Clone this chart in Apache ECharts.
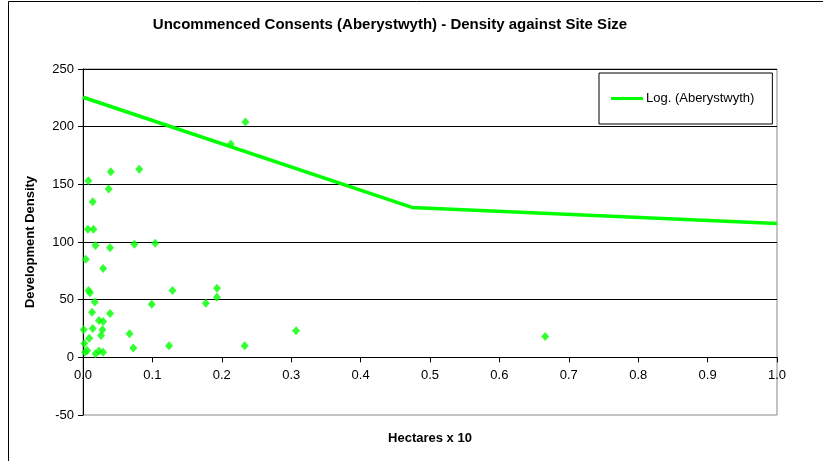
<!DOCTYPE html>
<html>
<head>
<meta charset="utf-8">
<script src="https://cdn.jsdelivr.net/npm/echarts@6/dist/echarts.min.js"></script>
<style>
  html, body { margin: 0; padding: 0; background: #fff; }
  #chart { width: 823px; height: 461px; }
</style>
</head>
<body>
<div id="chart"></div>
<script>
// Site size (hectares x 10) and development density for each uncommenced consent
const siteSize = [
  0.0077, 0.040, 0.081, 0.037, 0.014, 0.007, 0.015, 0.018, 0.039, 0.074,
  0.104, 0.004, 0.029, 0.008, 0.010, 0.129, 0.017, 0.099, 0.013, 0.039,
  0.023, 0.029, 0.001, 0.014, 0.028, 0.026, 0.009, 0.067, 0.002, 0.0725,
  0.124, 0.006, 0.003, 0.018, 0.023, 0.029, 0.234, 0.213, 0.193, 0.193,
  0.177, 0.233, 0.307, 0.666
];
const density = [
  153, 161, 163, 146, 135, 111, 111, 97, 95, 98,
  99, 85, 77, 58, 56, 58, 48, 46, 39, 38,
  32, 31, 24, 25, 24, 19, 16.5, 20.5, 12, 8,
  10, 6, 4.5, 3, 5.5, 4.5, 204, 185, 60, 52,
  47, 10, 23, 18
];

// Logarithmic trendline as plotted (sampled vertices)
const trendX = [0, 0.474, 1.0];
const trendY = [225.5, 130, 116];
const trendName = 'Log. (Aberystwyth)';

const xTicks = { min: 0, max: 1, interval: 0.1 };
const yTicks = { min: -50, max: 250, interval: 50 };

const FONT = '"Liberation Sans", Arial, sans-serif';
const GREEN = '#00ff00';

const GRID = { left: 83, right: 46, top: 69, bottom: 46 };
const CHART_H = 461;
// The x axis crosses the y axis at zero: lift it from the bottom edge by
// the pixel distance between yTicks.min and 0 on the value scale.
const plotH = CHART_H - GRID.top - GRID.bottom;
const xAxisLift = plotH * (0 - yTicks.min) / (yTicks.max - yTicks.min);

const points = siteSize.map((x, i) => [x, density[i]]);
const trend = trendX.map((x, i) => [x, trendY[i]]);

const chart = echarts.init(document.getElementById('chart'), null, { renderer: 'canvas' });
chart.setOption({
  backgroundColor: '#fff',
  animation: false,
  textStyle: { fontFamily: FONT },
  title: {
    text: 'Uncommenced Consents (Aberystwyth) - Density against Site Size',
    left: 385, top: 12, textAlign: 'center',
    textStyle: { fontFamily: FONT, fontSize: 15, fontWeight: 'bold', color: '#000' }
  },
  graphic: [{
    type: 'rect', silent: true,
    shape: { x: 8.5, y: 1.5, width: 900, height: 500 },
    style: { fill: 'none', stroke: '#000', lineWidth: 1 }
  }],
  legend: {
    data: [{ name: trendName, icon: 'rect' }],
    left: 599, top: 73,
    orient: 'vertical',
    padding: [19, 18, 19, 12],
    borderColor: '#000', borderWidth: 1,
    backgroundColor: '#fff',
    itemWidth: 32, itemHeight: 3, itemGap: 5,
    itemStyle: { color: GREEN, borderWidth: 0 },
    textStyle: { fontFamily: FONT, fontSize: 13, color: '#000', padding: [0, 0, 0, -2] }
  },
  grid: Object.assign({}, GRID, {
    outerBoundsMode: 'none',
    containLabel: false,
    show: true, borderColor: '#888', borderWidth: 1, backgroundColor: 'transparent'
  }),
  xAxis: {
    type: 'value',
    min: xTicks.min, max: xTicks.max, interval: xTicks.interval,
    offset: -xAxisLift,
    name: 'Hectares x 10', nameLocation: 'middle', nameGap: 75,
    nameTextStyle: { fontFamily: FONT, fontSize: 13, fontWeight: 'bold', color: '#000' },
    axisLine: { show: true, onZero: false, lineStyle: { color: '#000', width: 1 } },
    axisTick: { show: true, inside: false, length: 5, lineStyle: { color: '#000' } },
    axisLabel: {
      margin: 12, fontFamily: FONT, fontSize: 13, color: '#000',
      formatter: v => v.toFixed(1)
    },
    splitLine: { show: false }
  },
  yAxis: {
    type: 'value',
    min: yTicks.min, max: yTicks.max, interval: yTicks.interval,
    name: 'Development Density', nameLocation: 'middle', nameGap: 46, nameRotate: 90,
    nameTextStyle: { fontFamily: FONT, fontSize: 13, fontWeight: 'bold', color: '#000' },
    axisLine: { show: true, onZero: false, lineStyle: { color: '#000', width: 1 } },
    axisTick: { show: true, inside: false, length: 5, lineStyle: { color: '#000' } },
    axisLabel: { margin: 9, fontFamily: FONT, fontSize: 13, color: '#000' },
    splitLine: { show: true, showMinLine: false, lineStyle: { color: '#000', width: 1 } }
  },
  series: [
    {
      name: 'Aberystwyth',
      type: 'scatter',
      data: points,
      symbol: 'diamond',
      symbolSize: [8, 9],
      itemStyle: { color: GREEN },
      z: 3
    },
    {
      name: trendName,
      type: 'line',
      data: trend,
      symbol: 'none',
      lineStyle: { color: GREEN, width: 3.5 },
      itemStyle: { color: GREEN },
      z: 2
    }
  ]
});
</script>
</body>
</html>
